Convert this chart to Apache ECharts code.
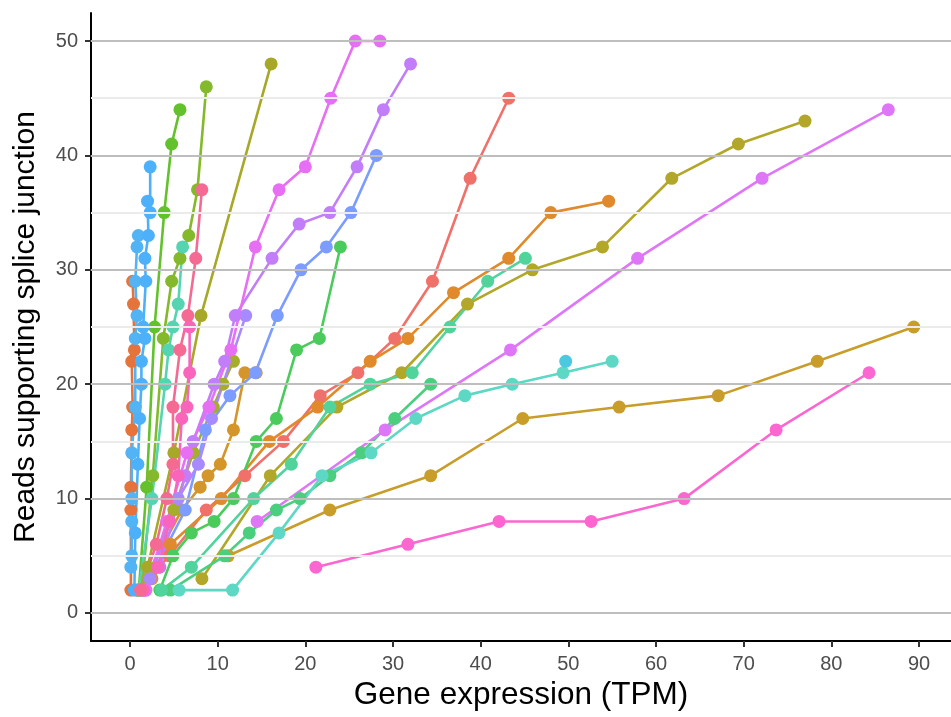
<!DOCTYPE html>
<html>
<head>
<meta charset="utf-8">
<title>Splice junction reads vs gene expression</title>
<script src="https://cdn.jsdelivr.net/npm/echarts@6/dist/echarts.min.js"></script>
<style>
  html, body { margin: 0; padding: 0; background: #ffffff; }
  #chart { width: 951px; height: 717px; }
</style>
</head>
<body>
<div id="chart"></div>
<script>
// Axis tick values
const xTicks = [0, 10, 20, 30, 40, 50, 60, 70, 80, 90];
const yTicks = [0, 10, 20, 30, 40, 50];
const yMinorTicks = [5, 15, 25, 35, 45];

// One pair of arrays per gene: expression (TPM) and junction reads
const g01_tpm = [0.8, 4.5, 8.7, 13.1, 17.5, 21.7, 26.0, 30.2, 34.5, 38.8, 43.2];
const g01_reads = [2, 5, 9, 12, 15, 19, 21, 24, 29, 38, 45];
const g02_tpm = [0.1, 0.1, 0.1, 0.2, 0.3, 0.2, 0.5, 0.4, 0.3];
const g02_reads = [2, 9, 11, 16, 18, 22, 23, 27, 29];
const g03_tpm = [2.5, 4.6, 10.4, 15.9, 21.4, 27.4, 31.7, 36.9, 43.2, 48.0, 54.6];
const g03_reads = [3, 6, 10, 15, 18, 22, 24, 28, 31, 35, 36];
const g04_tpm = [1.0, 5.9, 8.0, 8.9, 10.3, 11.8, 13.1, 14.4];
const g04_reads = [2, 9, 11, 12, 13, 16, 21, 21];
const g05_tpm = [11.2, 22.8, 34.3, 44.8, 55.8, 67.1, 78.4, 89.4];
const g05_reads = [5, 9, 12, 17, 18, 19, 22, 25];
const g06_tpm = [8.2, 16.0, 23.6, 31.0, 38.5, 45.9, 53.9, 61.8, 69.4, 77.0];
const g06_reads = [3, 12, 18, 21, 27, 30, 32, 38, 41, 43];
const g07_tpm = [2.0, 5.0, 8.1, 16.1];
const g07_reads = [4, 14, 26, 48];
const g08_tpm = [2.0, 5.0, 7.2, 9.5, 10.6, 11.8];
const g08_reads = [3, 9, 14, 18, 20, 22];
const g09_tpm = [1.3, 2.6, 3.8, 4.75, 5.7, 6.7, 7.7, 8.7];
const g09_reads = [2, 12, 24, 29, 31, 33, 37, 46];
const g10_tpm = [1.0, 1.9, 2.8, 3.9, 4.75, 5.7];
const g10_reads = [2, 11, 25, 35, 41, 44];
const g11_tpm = [3.4, 4.9, 7.0, 9.6, 11.8, 14.4, 16.7, 19.0, 21.6, 24.0];
const g11_reads = [2, 5, 7, 8, 10, 15, 17, 23, 24, 32];
const g12_tpm = [4.6, 10.8, 13.6, 16.7, 19.4, 22.8, 26.4, 30.2, 34.3];
const g12_reads = [2, 5, 7, 9, 10, 12, 14, 17, 20];
const g13_tpm = [3.6, 7.0, 14.1, 18.4, 22.8, 27.4, 32.2, 36.5, 40.8, 45.1];
const g13_reads = [2, 4, 10, 13, 18, 20, 21, 25, 29, 31];
const g14_tpm = [5.6, 11.7, 17.0, 21.9, 27.5, 32.6, 38.2, 43.6, 49.4, 55.0];
const g14_reads = [2, 2, 7, 12, 14, 17, 19, 20, 21, 22];
const g15_tpm = [1.0, 2.5, 4.0, 4.4, 4.9, 5.5, 6.0];
const g15_reads = [2, 10, 20, 23, 25, 27, 32];
const g16_tpm = [49.7];
const g16_reads = [22];
const g17_tpm = [0.1, 0.2, 0.2, 0.2, 0.2, 0.6, 0.6, 0.8, 0.6, 0.8, 0.95];
const g17_reads = [4, 5, 8, 10, 14, 18, 24, 26, 29, 32, 33];
const g18_tpm = [0.5, 0.6, 0.9, 1.1, 1.3, 1.3, 1.7, 1.5, 1.8, 1.7, 2.1, 2.0, 2.3, 2.3];
const g18_reads = [2, 7, 13, 17, 20, 22, 24, 25, 29, 31, 33, 36, 35, 39];
const g19_tpm = [1.6, 6.3, 8.6, 11.4, 14.3, 16.8, 19.5, 22.4, 25.2, 28.1];
const g19_reads = [2, 9, 16, 19, 21, 26, 30, 32, 35, 40];
const g20_tpm = [2.3, 5.5, 7.8, 9.3, 13.2];
const g20_reads = [3, 10, 13, 17, 26];
const g21_tpm = [1.8, 3.4, 6.3, 7.2, 9.6, 10.8, 12.0, 16.2, 19.3, 22.8, 25.9, 28.9, 32.0];
const g21_reads = [2, 4, 12, 15, 20, 22, 26, 31, 34, 35, 39, 44, 48];
const g22_tpm = [1.8, 4.2, 6.5, 9.0, 11.5, 14.3, 17.0, 20.0, 22.9, 25.7, 28.5];
const g22_reads = [2, 8, 14, 18, 23, 32, 37, 39, 45, 50, 50];
const g23_tpm = [14.5, 29.1, 43.4, 57.9, 72.1, 86.5];
const g23_reads = [8, 16, 23, 31, 38, 44];
const g24_tpm = [21.2, 31.7, 42.1, 52.6, 63.2, 73.7, 84.3];
const g24_reads = [4, 6, 8, 8, 10, 16, 21];
const g25_tpm = [1.5, 3.2, 4.5, 5.5, 5.9, 6.5, 6.8, 6.8];
const g25_reads = [2, 4, 8, 12, 17, 18, 21, 25];
const g26_tpm = [1.2, 3.0, 4.2, 4.9, 4.9, 5.7, 6.6, 7.5, 8.2];
const g26_reads = [2, 6, 10, 13, 18, 23, 26, 31, 37];

const genes = [
  ['g01', g01_tpm, g01_reads, '#F0706A'],
  ['g02', g02_tpm, g02_reads, '#E5733C'],
  ['g03', g03_tpm, g03_reads, '#E08A2C'],
  ['g04', g04_tpm, g04_reads, '#D4952B'],
  ['g05', g05_tpm, g05_reads, '#C89D2A'],
  ['g06', g06_tpm, g06_reads, '#B3A729'],
  ['g07', g07_tpm, g07_reads, '#A8A828'],
  ['g08', g08_tpm, g08_reads, '#A6AD2C'],
  ['g09', g09_tpm, g09_reads, '#84B92B'],
  ['g10', g10_tpm, g10_reads, '#63C22B'],
  ['g11', g11_tpm, g11_reads, '#4ACB5B'],
  ['g12', g12_tpm, g12_reads, '#4BCF7E'],
  ['g13', g13_tpm, g13_reads, '#50D49C'],
  ['g14', g14_tpm, g14_reads, '#5DD8C4'],
  ['g15', g15_tpm, g15_reads, '#55D4B2'],
  ['g16', g16_tpm, g16_reads, '#4CC8E0'],
  ['g17', g17_tpm, g17_reads, '#52B4F5'],
  ['g18', g18_tpm, g18_reads, '#4DB0FA'],
  ['g19', g19_tpm, g19_reads, '#7C9CFF'],
  ['g20', g20_tpm, g20_reads, '#A88AFF'],
  ['g21', g21_tpm, g21_reads, '#C27EF8'],
  ['g22', g22_tpm, g22_reads, '#E66FF3'],
  ['g23', g23_tpm, g23_reads, '#DF76F8'],
  ['g24', g24_tpm, g24_reads, '#FB66D0'],
  ['g25', g25_tpm, g25_reads, '#F865BB'],
  ['g26', g26_tpm, g26_reads, '#F56A92']
];

const FONT = 'Liberation Sans, Arial, sans-serif';

// Horizontal reference lines: major at tens, minor at fives
const gridLines = [];
yMinorTicks.forEach(v => gridLines.push({ yAxis: v, lineStyle: { color: '#EBEBEB', width: 2, type: 'solid' } }));
yTicks.forEach(v => gridLines.push({ yAxis: v, lineStyle: { color: '#BEBEBE', width: 2, type: 'solid' } }));

const series = [{
  type: 'line',
  data: [],
  silent: true,
  z: 0,
  markLine: {
    silent: true,
    symbol: ['none', 'none'],
    label: { show: false },
    animation: false,
    data: gridLines
  }
}];

// Lines first, then all points above them
genes.forEach(([name, tpm, reads, color]) => {
  series.push({
    name: name,
    type: 'line',
    data: tpm.map((t, i) => [t, reads[i]]),
    showSymbol: false,
    symbol: 'none',
    lineStyle: { color: color, width: 2.6 },
    z: 2,
    animation: false
  });
});
genes.forEach(([name, tpm, reads, color]) => {
  series.push({
    name: name,
    type: 'scatter',
    data: tpm.map((t, i) => [t, reads[i]]),
    symbolSize: 13,
    itemStyle: { color: color, opacity: 1 },
    z: 3,
    animation: false
  });
});

const chart = echarts.init(document.getElementById('chart'), null, { renderer: 'canvas' });
chart.setOption({
  backgroundColor: '#ffffff',
  animation: false,
  grid: { left: 91, right: 0, top: 13, bottom: 76, containLabel: false },
  xAxis: {
    type: 'value',
    min: -4.45,
    max: 93.65,
    name: 'Gene expression (TPM)',
    nameLocation: 'middle',
    nameGap: 33,
    nameTextStyle: { fontFamily: FONT, fontSize: 31.5, color: '#000000' },
    axisLine: { show: true, onZero: false, lineStyle: { color: '#000000', width: 2 } },
    axisTick: { show: true, customValues: xTicks, length: 6, lineStyle: { color: '#333333', width: 2 } },
    axisLabel: { customValues: xTicks, margin: 13, fontFamily: FONT, fontSize: 20, color: '#4D4D4D' },
    splitLine: { show: false }
  },
  yAxis: {
    type: 'value',
    min: -2.45,
    max: 52.45,
    name: 'Reads supporting splice junction',
    nameLocation: 'middle',
    nameGap: 50,
    nameRotate: 90,
    nameTextStyle: { fontFamily: FONT, fontSize: 30, color: '#000000' },
    axisLine: { show: true, onZero: false, lineStyle: { color: '#000000', width: 2 } },
    axisTick: { show: true, customValues: yTicks, length: 6, lineStyle: { color: '#333333', width: 2 } },
    axisLabel: { customValues: yTicks, margin: 13, fontFamily: FONT, fontSize: 20, color: '#4D4D4D' },
    splitLine: { show: false }
  },
  series: series
});
</script>
</body>
</html>
